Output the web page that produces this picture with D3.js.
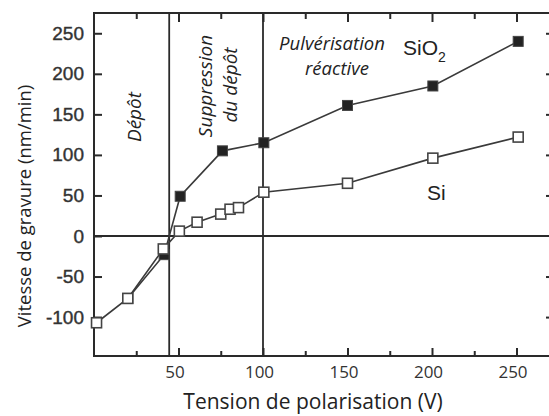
<!DOCTYPE html>
<html><head><meta charset="utf-8">
<script src="https://cdn.jsdelivr.net/npm/d3@7"></script>
<style>body{margin:0;background:#fff}svg{display:block}</style>
</head><body>
<script>
// ---- data ----
const siVoltage   = [1.5, 20, 41, 50.5, 61, 75, 80.5, 85.5, 100.5, 150, 200.5, 251];
const siRate      = [-107, -77, -16, 6, 17, 27, 33, 35, 54, 65, 96, 122];
const sio2Voltage = [20, 41.5, 51, 76, 100.5, 150, 200.5, 251];
const sio2Rate    = [-77, -23, 49, 105, 115, 161, 185, 240];
const xMajorTicks = [50, 100, 150, 200, 250];
const xMinorTicks = [25, 75, 125, 175, 225];
const yTicks      = [-100, -50, 0, 50, 100, 150, 200, 250];
const regionBounds = [44.5, 100];
const yTitle = "Vitesse de gravure (nm/min)";
const xTitle = "Tension de polarisation (V)";

const W = 549, H = 416;
const svg = d3.select("body").append("svg").attr("width", W).attr("height", H);
const L = 94, R = 551, T = 13, B = 356;
const x = d3.scaleLinear().domain([0, 270]).range([L, L + 270 * 1.69]);
const y = d3.scaleLinear().domain([-148, 275]).range([B, T]);
const ink = "#2a2a2a";

// frame
svg.append("rect").attr("x", L).attr("y", T).attr("width", R - L).attr("height", B - T)
  .attr("fill", "none").attr("stroke", ink).attr("stroke-width", 2);

function styleAxis(g){ g.select(".domain").remove(); g.selectAll("line").attr("stroke", ink).attr("stroke-width", 2); }

// bottom axis
const bx = svg.append("g").attr("transform", `translate(0,${B})`)
  .call(d3.axisBottom(x).tickValues(xMajorTicks).tickSize(-8).tickPadding(10).tickFormat(d => String(d)));
styleAxis(bx);
bx.selectAll("text").attr("font-family", "Open Sans").attr("font-size", 17).attr("fill", "#333").attr("dx", -4);
const bxm = svg.append("g").attr("transform", `translate(0,${B})`)
  .call(d3.axisBottom(x).tickValues(xMinorTicks).tickSize(-5).tickFormat(""));
styleAxis(bxm);
// top axis
const tx = svg.append("g").attr("transform", `translate(0,${T})`)
  .call(d3.axisTop(x).tickValues(xMajorTicks).tickSize(-9).tickFormat(""));
styleAxis(tx);
const txm = svg.append("g").attr("transform", `translate(0,${T})`)
  .call(d3.axisTop(x).tickValues(xMinorTicks).tickSize(-6).tickFormat(""));
styleAxis(txm);
// left axis
const ly = svg.append("g").attr("transform", `translate(${L},0)`)
  .call(d3.axisLeft(y).tickValues(yTicks).tickSize(-8).tickPadding(10).tickFormat(d => String(d)));
styleAxis(ly);
ly.selectAll("text").attr("font-family", "Liberation Sans").attr("font-size", 19).attr("fill", "#333")
  .attr("stroke", "#333").attr("stroke-width", 0.4);
// right axis (dots)
const ry = svg.append("g").attr("transform", `translate(${R - 1},0)`)
  .call(d3.axisRight(y).tickValues(yTicks.filter(d => d !== 0)).tickSize(-4).tickFormat(""));
styleAxis(ry);

// region lines
svg.selectAll(".vline").data(regionBounds).enter().append("line")
  .attr("x1", d => x(d)).attr("x2", d => x(d)).attr("y1", T).attr("y2", B)
  .attr("stroke", ink).attr("stroke-width", 1.8);
svg.append("line").attr("x1", L).attr("x2", R).attr("y1", y(0)).attr("y2", y(0))
  .attr("stroke", ink).attr("stroke-width", 1.8);

// series
const siData = siVoltage.map((v, i) => [v, siRate[i]]);
const sio2Data = sio2Voltage.map((v, i) => [v, sio2Rate[i]]);
const line = d3.line().x(d => x(d[0])).y(d => y(d[1]));
svg.append("path").datum(sio2Data).attr("d", line).attr("fill", "none").attr("stroke", "#3a3a3a").attr("stroke-width", 1.6);
svg.append("path").datum(siData).attr("d", line).attr("fill", "none").attr("stroke", "#3a3a3a").attr("stroke-width", 1.6);
const s = 10;
svg.selectAll(".m2").data(sio2Data).enter().append("rect")
  .attr("x", d => x(d[0]) - s / 2).attr("y", d => y(d[1]) - s / 2).attr("width", s).attr("height", s)
  .attr("fill", "#222").attr("stroke", "#444").attr("stroke-width", 1);
svg.selectAll(".m1").data(siData).enter().append("rect")
  .attr("x", d => x(d[0]) - s / 2).attr("y", d => y(d[1]) - s / 2).attr("width", s).attr("height", s)
  .attr("fill", "#fff").attr("stroke", "#444").attr("stroke-width", 1.6);

// titles
svg.append("text").attr("transform", "translate(31,206) rotate(-90)").attr("text-anchor", "middle")
  .attr("font-family", "Open Sans").attr("font-size", 18.5).attr("fill", "#222").text(yTitle);
svg.append("text").attr("x", 313).attr("y", 409).attr("text-anchor", "middle")
  .attr("font-family", "Open Sans").attr("font-size", 21).attr("fill", "#222").text(xTitle);

// annotations
function ital(tr, txt, fs){
  svg.append("text").attr("transform", tr).attr("text-anchor", "middle")
    .attr("font-family", "Open Sans").attr("font-style", "italic").attr("font-size", fs || 19).attr("fill", "#222").text(txt);
}
ital("translate(141,117) rotate(-90)", "Dépôt");
ital("translate(212,86) rotate(-90)", "Suppression");
ital("translate(237,85) rotate(-90)", "du dépôt");
ital("translate(332,50)", "Pulvérisation", 18.5);
ital("translate(337,75)", "réactive", 18.5);

const lab = svg.append("text").attr("x", 403).attr("y", 55).attr("font-family", "Liberation Sans").attr("font-size", 21).attr("fill", "#222");
lab.append("tspan").text("SiO");
lab.append("tspan").attr("font-size", 14).attr("dy", 7).text("2");
svg.append("text").attr("x", 427).attr("y", 200).attr("font-family", "Liberation Sans").attr("font-size", 21).attr("fill", "#222").text("Si");
</script>
</body></html>
